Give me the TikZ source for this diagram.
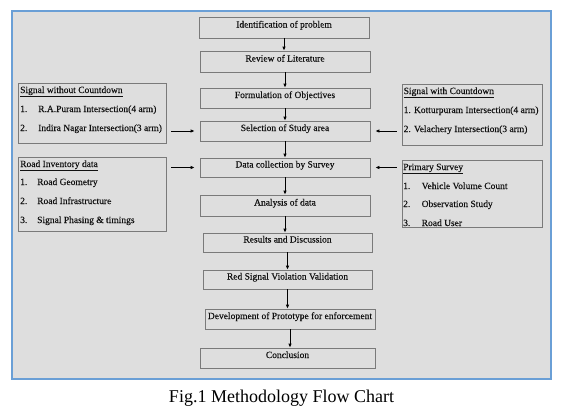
\documentclass[tikz,border=0pt]{standalone}
\usepackage{fontspec}
\setmainfont{Liberation Serif}
\newfontfamily\inkfont{Liberation Serif}[FakeBold=0.25]
\usetikzlibrary{arrows.meta}
\definecolor{panelfill}{HTML}{DEDEDE}
\definecolor{panelline}{HTML}{6A9FD6}
\definecolor{boxline}{HTML}{7A7A7A}
\definecolor{inktext}{HTML}{111111}
\begin{document}
\begin{tikzpicture}[x=1pt,y=-1pt,
  flowbox/.style={draw=boxline, line width=0.8pt, fill=panelfill, inner sep=0pt,
    text height=4pt, text depth=4pt, font=\inkfont\fontsize{9.5}{11}\selectfont, text=inktext},
  sidebox/.style={draw=boxline, line width=0.8pt, fill=panelfill, inner sep=0pt},
  sidetext/.style={anchor=base west, inner sep=0pt, font=\inkfont\fontsize{9.5}{11}\selectfont, text=inktext},
  flowarrow/.style={draw=black, line width=0.9pt, -{Latex[length=4pt,width=3.6pt]}},
  sidearrow/.style={flowarrow, shorten <=5pt, shorten >=5pt}]
\useasboundingbox (0,0) rectangle (563,410);
\path[fill=panelfill, draw=panelline, line width=1.2pt] (12,11) rectangle (551,379);

% central flow
\node[flowbox, minimum width=170pt, minimum height=21pt] (b1) at (284,27.5) {Identification of problem};
\node[flowbox, minimum width=170pt, minimum height=21pt] (b2) at (285,61.5) {Review of Literature};
\node[flowbox, minimum width=170pt, minimum height=20pt] (b3) at (285,98) {Formulation of Objectives};
\node[flowbox, minimum width=170pt, minimum height=20pt] (b4) at (285,131) {Selection of Study area};
\node[flowbox, minimum width=170pt, minimum height=19pt] (b5) at (285,167.5) {Data collection by Survey};
\node[flowbox, minimum width=170pt, minimum height=21pt] (b6) at (285,205.5) {Analysis of data};
\node[flowbox, minimum width=169pt, minimum height=19pt] (b7) at (287.5,242.5) {Results and Discussion};
\node[flowbox, minimum width=169pt, minimum height=19pt] (b8) at (287.5,279.5) {Red Signal Violation Validation};
\node[flowbox, minimum width=170pt, minimum height=20pt] (b9) at (290,319) {Development of Prototype for enforcement};
\node[flowbox, minimum width=175pt, minimum height=20pt] (b10) at (287.5,358) {Conclusion};

\foreach \a/\b in {b1/b2,b2/b3,b3/b4,b4/b5,b5/b6,b6/b7,b7/b8,b8/b9,b9/b10}
  \draw[flowarrow] (\a.south) -- (\a.south |- \b.north);

% side boxes
\node[sidebox, minimum width=148pt, minimum height=60pt] (lb1) at (92,113) {};
\node[sidebox, minimum width=148pt, minimum height=74pt] (lb2) at (92,194) {};
\node[sidebox, minimum width=140pt, minimum height=61pt] (rb1) at (472,114.5) {};
\node[sidebox, minimum width=140pt, minimum height=67pt] (rb2) at (472,193.5) {};

% left box 1
\node[sidetext] (lb1t) at (20,93) {\underline{Signal without Countdown}};
\node[sidetext] (lb1n1) at (20,112) {1.};
\node[sidetext] (lb1i1) at (38,112) {R.A.Puram Intersection(4 arm)};
\node[sidetext] (lb1n2) at (20,131) {2.};
\node[sidetext] (lb1i2) at (38,131) {Indira Nagar Intersection(3 arm)};

% left box 2
\node[sidetext] (lb2t) at (20,167) {\underline{Road Inventory data}};
\node[sidetext] (lb2n1) at (20,185) {1.};
\node[sidetext] (lb2i1) at (37,185) {Road Geometry};
\node[sidetext] (lb2n2) at (20,204) {2.};
\node[sidetext] (lb2i2) at (37,204) {Road Infrastructure};
\node[sidetext] (lb2n3) at (20,223) {3.};
\node[sidetext] (lb2i3) at (37,223) {Signal Phasing \& timings};

% right box 1
\node[sidetext] (rb1t) at (403.5,94) {\underline{Signal with Countdown}};
\node[sidetext] (rb1i1) at (403.5,113) {1. Kotturpuram Intersection(4 arm)};
\node[sidetext] (rb1i2) at (403.5,132) {2. Velachery Intersection(3 arm)};

% right box 2
\node[sidetext] (rb2t) at (403,170) {\underline{Primary Survey}};
\node[sidetext] (rb2n1) at (403,189) {1.};
\node[sidetext] (rb2i1) at (421.5,189) {Vehicle Volume Count};
\node[sidetext] (rb2n2) at (403,207) {2.};
\node[sidetext] (rb2i2) at (421.5,207) {Observation Study};
\node[sidetext] (rb2n3) at (403,226) {3.};
\node[sidetext] (rb2i3) at (421.5,226) {Road User};

% side arrows
\draw[sidearrow] (lb1.east |- b4.west) -- (b4.west);
\draw[sidearrow] (lb2.east |- b5.west) -- (b5.west);
\draw[sidearrow] (rb1.west |- b4.east) -- (b4.east);
\draw[sidearrow] (rb2.west |- b5.east) -- (b5.east);

% caption
\node[font=\fontsize{18}{21}\selectfont, text=black, inner sep=0pt] (cap) at (281.5,398) {Fig.1 Methodology Flow Chart};
\end{tikzpicture}
\end{document}
